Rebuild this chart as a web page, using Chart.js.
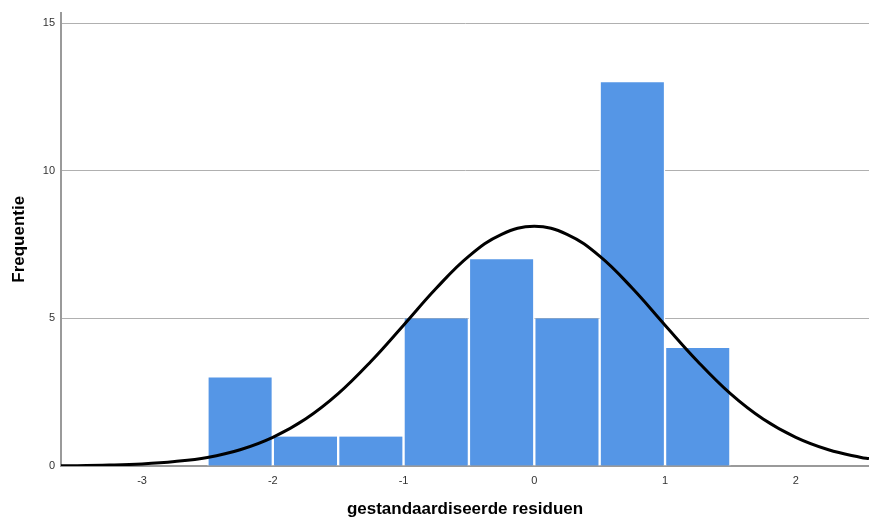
<!DOCTYPE html>
<html>
<head>
<meta charset="utf-8">
<script src="https://cdn.jsdelivr.net/npm/chart.js@4"></script>
<style>
  html, body { margin: 0; padding: 0; background: #fff; }
  #wrap { width: 869px; height: 522px; }
</style>
</head>
<body>
<div id="wrap"><canvas id="histChart" width="869" height="522"></canvas></div>
<script>
// histogram bins (centres, width 0.5) and counts
const binCentres = [-2.25, -1.75, -1.25, -0.75, -0.25, 0.25, 0.75, 1.25];
const binCounts = [3, 1, 1, 5, 7, 5, 13, 4];

// normal curve
const curveX = [-3.62, -3.5, -3.25, -3, -2.75, -2.5, -2.25, -2, -1.75, -1.5, -1.25, -1, -0.75, -0.5, -0.25,
                0, 0.25, 0.5, 0.75, 1, 1.25, 1.5, 1.75, 2, 2.25, 2.5, 2.56];
const curveY = [0.01, 0.01, 0.03, 0.07, 0.15, 0.29, 0.55, 0.97, 1.59, 2.45, 3.54, 4.77, 6.02, 7.11, 7.85,
                8.12, 7.85, 7.11, 6.02, 4.77, 3.54, 2.45, 1.59, 0.97, 0.55, 0.29, 0.25];

const xTicks = [-3, -2, -1, 0, 1, 2];
const yTicks = [0, 5, 10, 15];

document.addEventListener("DOMContentLoaded", function() {
    const ctx = document.getElementById('histChart').getContext('2d');
    const font = 'Liberation Sans, Arial, sans-serif';

    new Chart(ctx, {
        type: 'bar',
        data: {
            datasets: [{
                type: 'line',
                data: curveX.map((x, i) => ({ x: x, y: curveY[i] })),
                borderColor: '#000',
                borderWidth: 3,
                pointRadius: 0,
                tension: 0.4,
                fill: false,
                order: 0
            }, {
                type: 'bar',
                data: binCentres.map((x, i) => ({ x: x, y: binCounts[i] })),
                backgroundColor: '#5596e6',
                borderColor: '#ffffff',
                borderWidth: { left: 1.5, right: 1.5, top: 0, bottom: 0 },
                borderSkipped: false,
                barPercentage: 1,
                categoryPercentage: 1,
                order: 1
            }]
        },
        options: {
            responsive: false,
            animation: false,
            layout: { padding: 0 },
            plugins: { legend: { display: false }, tooltip: { enabled: false } },
            scales: {
                x: {
                    type: 'linear',
                    offset: false,
                    min: -3.62,
                    max: 2.56,
                    afterBuildTicks: axis => { axis.ticks = xTicks.map(v => ({ value: v })); },
                    afterFit: axis => { axis.height = 56; },
                    grid: { display: false, drawTicks: false, offset: false },
                    border: { display: true, color: '#9a9a9a', width: 2 },
                    ticks: { color: '#333', font: { family: font, size: 11 }, padding: 8 },
                    title: {
                        display: true,
                        text: 'gestandaardiseerde residuen',
                        color: '#000',
                        font: { family: font, size: 17, weight: 'bold' },
                        padding: { top: 9, bottom: 2 }
                    }
                },
                y: {
                    min: 0,
                    max: 15.36,
                    afterBuildTicks: axis => { axis.ticks = yTicks.map(v => ({ value: v })); },
                    afterFit: axis => { axis.width = 61; },
                    grid: { color: '#b0b0b0', lineWidth: 1, drawTicks: false },
                    border: { display: true, color: '#9a9a9a', width: 2 },
                    ticks: { color: '#333', font: { family: font, size: 11 }, padding: 6 },
                    title: {
                        display: true,
                        text: 'Frequentie',
                        color: '#000',
                        font: { family: font, size: 17, weight: 'bold' },
                        padding: { top: 9, bottom: 4 }
                    }
                }
            }
        }
    });
});
</script>
</body>
</html>
